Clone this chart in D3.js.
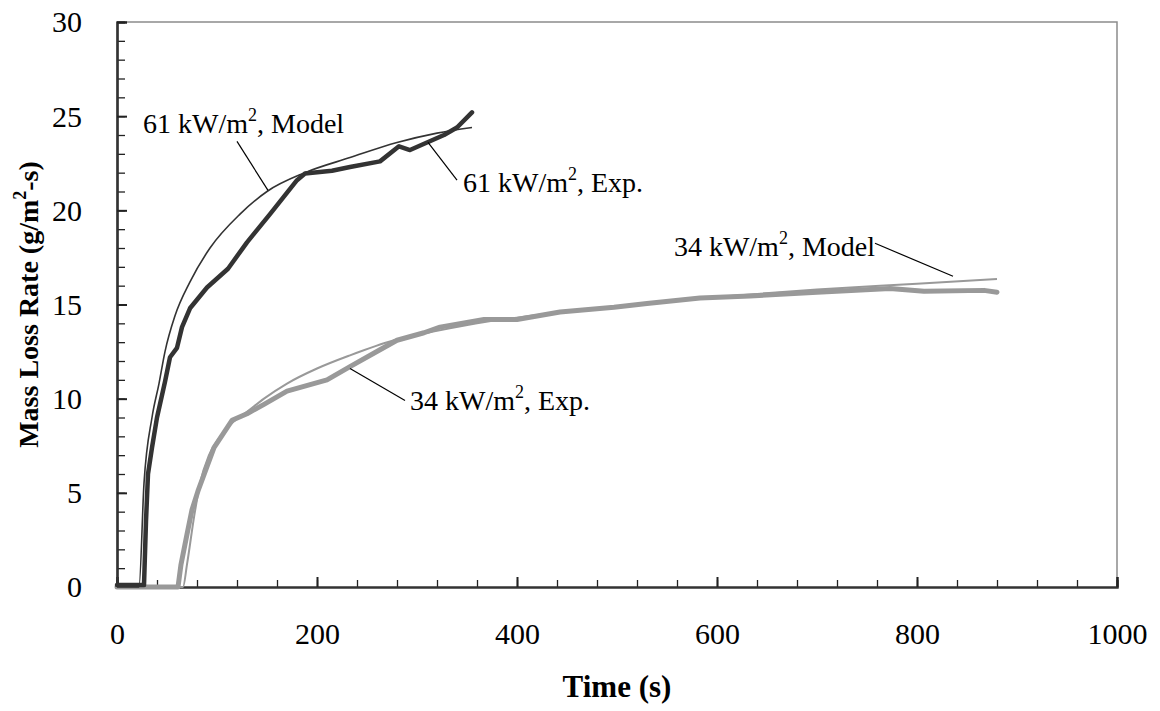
<!DOCTYPE html>
<html>
<head>
<meta charset="utf-8">
<title>Mass Loss Rate</title>
<script src="https://d3js.org/d3.v7.min.js"></script>
<style>
  body { margin: 0; background: #fff; }
  svg text { font-family: "Liberation Serif", "Times New Roman", "DejaVu Serif", serif; fill: #000; }
</style>
</head>
<body>
<svg id="chart" width="1160" height="711"></svg>
<script>
// 61 kW/m2 experiment (thick dark)
var exp61T = [0, 27, 29, 31, 35, 40, 48, 53, 60, 65, 73, 90, 111, 130, 153, 180, 188, 215, 233, 263, 282, 293, 310, 327, 340, 355];
var exp61V = [0.1, 0.1, 3.5, 6.0, 7.4, 9.0, 10.9, 12.2, 12.7, 13.8, 14.8, 15.9, 16.9, 18.3, 19.8, 21.6, 21.95, 22.1, 22.3, 22.6, 23.4, 23.2, 23.6, 24.0, 24.4, 25.2];
// 61 kW/m2 model (thin dark)
var mod61T = [0, 22, 27, 35, 42, 48, 58, 73, 93, 123, 150, 188, 233, 280, 320, 355];
var mod61V = [0, 0, 5.5, 9.0, 10.8, 12.5, 14.4, 16.2, 18.0, 19.8, 21.0, 22.0, 22.8, 23.6, 24.1, 24.4];
// 34 kW/m2 experiment (thick grey)
var exp34T = [0, 61, 64, 70, 75, 81, 97, 115, 130, 147, 170, 210, 233, 263, 280, 307, 323, 367, 400, 443, 497, 530, 583, 633, 700, 773, 807, 867, 880];
var exp34V = [0, 0, 1.2, 2.8, 4.1, 5.1, 7.4, 8.85, 9.2, 9.7, 10.4, 11.0, 11.7, 12.6, 13.1, 13.5, 13.8, 14.2, 14.2, 14.6, 14.85, 15.05, 15.35, 15.45, 15.65, 15.85, 15.7, 15.75, 15.65];
// 34 kW/m2 model (thin grey)
var mod34T = [0, 66, 70, 77, 83, 92, 102, 115, 130, 147, 170, 200, 233, 277, 320, 360, 400, 500, 600, 700, 800, 880];
var mod34V = [0, 0, 1.2, 3.7, 5.5, 7.0, 7.9, 8.7, 9.3, 10.0, 10.8, 11.6, 12.3, 13.1, 13.6, 14.0, 14.3, 14.9, 15.4, 15.8, 16.1, 16.35];

var xTicks = [0, 200, 400, 600, 800, 1000];
var yTicks = [0, 5, 10, 15, 20, 25, 30];

// annotation labels: text position and leader line in data units
var notes = [
  { pre: "61 kW/m", post: ", Model", t: 26, v: 24.1, anchor: "start", l: [120, 23.66, 151, 21.06] },
  { pre: "61 kW/m", post: ", Exp.", t: 346, v: 20.96, anchor: "start", l: [311, 23.61, 340, 21.6] },
  { pre: "34 kW/m", post: ", Model", t: 758, v: 17.6, anchor: "end", l: [758, 18.25, 836, 16.5] },
  { pre: "34 kW/m", post: ", Exp.", t: 293, v: 9.38, anchor: "start", l: [233, 11.6, 288, 9.9] }
];

var serif = "Liberation Serif, Times New Roman, DejaVu Serif, serif";
var svg = d3.select("#chart").attr("font-family", serif);
var padL = 117, padR = 1117, padT = 22, padB = 587;

var x = d3.scaleLinear().domain([0, 1000]).range([padL, padR]);
var y = d3.scaleLinear().domain([0, 30]).range([padB, padT]);

function zipPts(ts, vs) {
  return ts.map(function (t, i) { return [t, vs[i]]; });
}

// frame (top + right in grey)
svg.append("path")
  .attr("d", "M" + padL + "," + padT + "H" + padR + "V" + padB)
  .attr("fill", "none")
  .attr("stroke", "#8c8c8c")
  .attr("stroke-width", 1.5);

// minor ticks
var xMinor = d3.axisBottom(x).tickValues(d3.range(0, 1001, 40)).tickSize(-7).tickFormat("");
var yMinor = d3.axisLeft(y).tickValues(d3.range(0, 31, 1)).tickSize(-8).tickFormat("");
svg.append("g").attr("transform", "translate(0," + padB + ")").call(xMinor);
svg.append("g").attr("transform", "translate(" + padL + ",0)").call(yMinor);

// major ticks + labels
var xAxis = d3.axisBottom(x).tickValues(xTicks).tickSize(-10).tickPadding(36).tickFormat(d3.format("d"));
var yAxis = d3.axisLeft(y).tickValues(yTicks).tickSize(-10).tickPadding(35).tickFormat(d3.format("d"));
var gx = svg.append("g").attr("transform", "translate(0," + padB + ")").call(xAxis);
var gy = svg.append("g").attr("transform", "translate(" + padL + ",0)").call(yAxis);

svg.selectAll("g").attr("font-family", serif);
svg.selectAll(".domain").attr("stroke", "#333").attr("stroke-width", 2.2);
svg.selectAll(".tick line").attr("stroke", "#222").attr("stroke-width", 1.3);
gx.selectAll(".tick line").attr("stroke-width", 2);
gy.selectAll(".tick line").attr("stroke-width", 2);
gx.selectAll("text").attr("font-size", 30).attr("fill", "#000");
gy.selectAll("text").attr("font-size", 30).attr("fill", "#000").attr("dy", "0.33em");

// series
var line = d3.line().x(function (d) { return x(d[0]); }).y(function (d) { return y(d[1]); });
var smooth = d3.line().curve(d3.curveMonotoneX).x(function (d) { return x(d[0]); }).y(function (d) { return y(d[1]); });

svg.append("path").datum(zipPts(mod34T, mod34V)).attr("d", smooth)
  .attr("fill", "none").attr("stroke", "#999").attr("stroke-width", 2);
svg.append("path").datum(zipPts(exp34T, exp34V)).attr("d", line)
  .attr("fill", "none").attr("stroke", "#999").attr("stroke-width", 5)
  .attr("stroke-linejoin", "round").attr("stroke-linecap", "round");
svg.append("path").datum(zipPts(mod61T, mod61V)).attr("d", smooth)
  .attr("fill", "none").attr("stroke", "#333").attr("stroke-width", 1.6);
svg.append("path").datum(zipPts(exp61T, exp61V)).attr("d", line)
  .attr("fill", "none").attr("stroke", "#333").attr("stroke-width", 4.5)
  .attr("stroke-linejoin", "round").attr("stroke-linecap", "round");

// annotations
notes.forEach(function (n) {
  svg.append("line")
    .attr("x1", x(n.l[0])).attr("y1", y(n.l[1]))
    .attr("x2", x(n.l[2])).attr("y2", y(n.l[3]))
    .attr("stroke", "#000").attr("stroke-width", 1.2);
  var t = svg.append("text")
    .attr("x", x(n.t)).attr("y", y(n.v))
    .attr("font-family", serif)
    .attr("font-size", 28)
    .attr("text-anchor", n.anchor);
  t.append("tspan").text(n.pre);
  t.append("tspan").attr("font-size", 18).attr("dy", -12).text("2");
  t.append("tspan").attr("dy", 12).text(n.post);
});

// axis titles
svg.append("text")
  .attr("x", (padL + padR) / 2).attr("y", 697)
  .attr("text-anchor", "middle")
  .attr("font-family", serif)
  .attr("font-size", 31).attr("font-weight", "bold")
  .text("Time (s)");

var yt = svg.append("text")
  .attr("transform", "translate(38," + ((padT + padB) / 2) + ") rotate(-90)")
  .attr("text-anchor", "middle")
  .attr("font-family", serif)
  .attr("font-size", 28).attr("font-weight", "bold");
yt.append("tspan").text("Mass Loss Rate (g/m");
yt.append("tspan").attr("font-size", 18).attr("dy", -12).text("2");
yt.append("tspan").attr("dy", 12).text("-s)");
</script>
</body>
</html>
